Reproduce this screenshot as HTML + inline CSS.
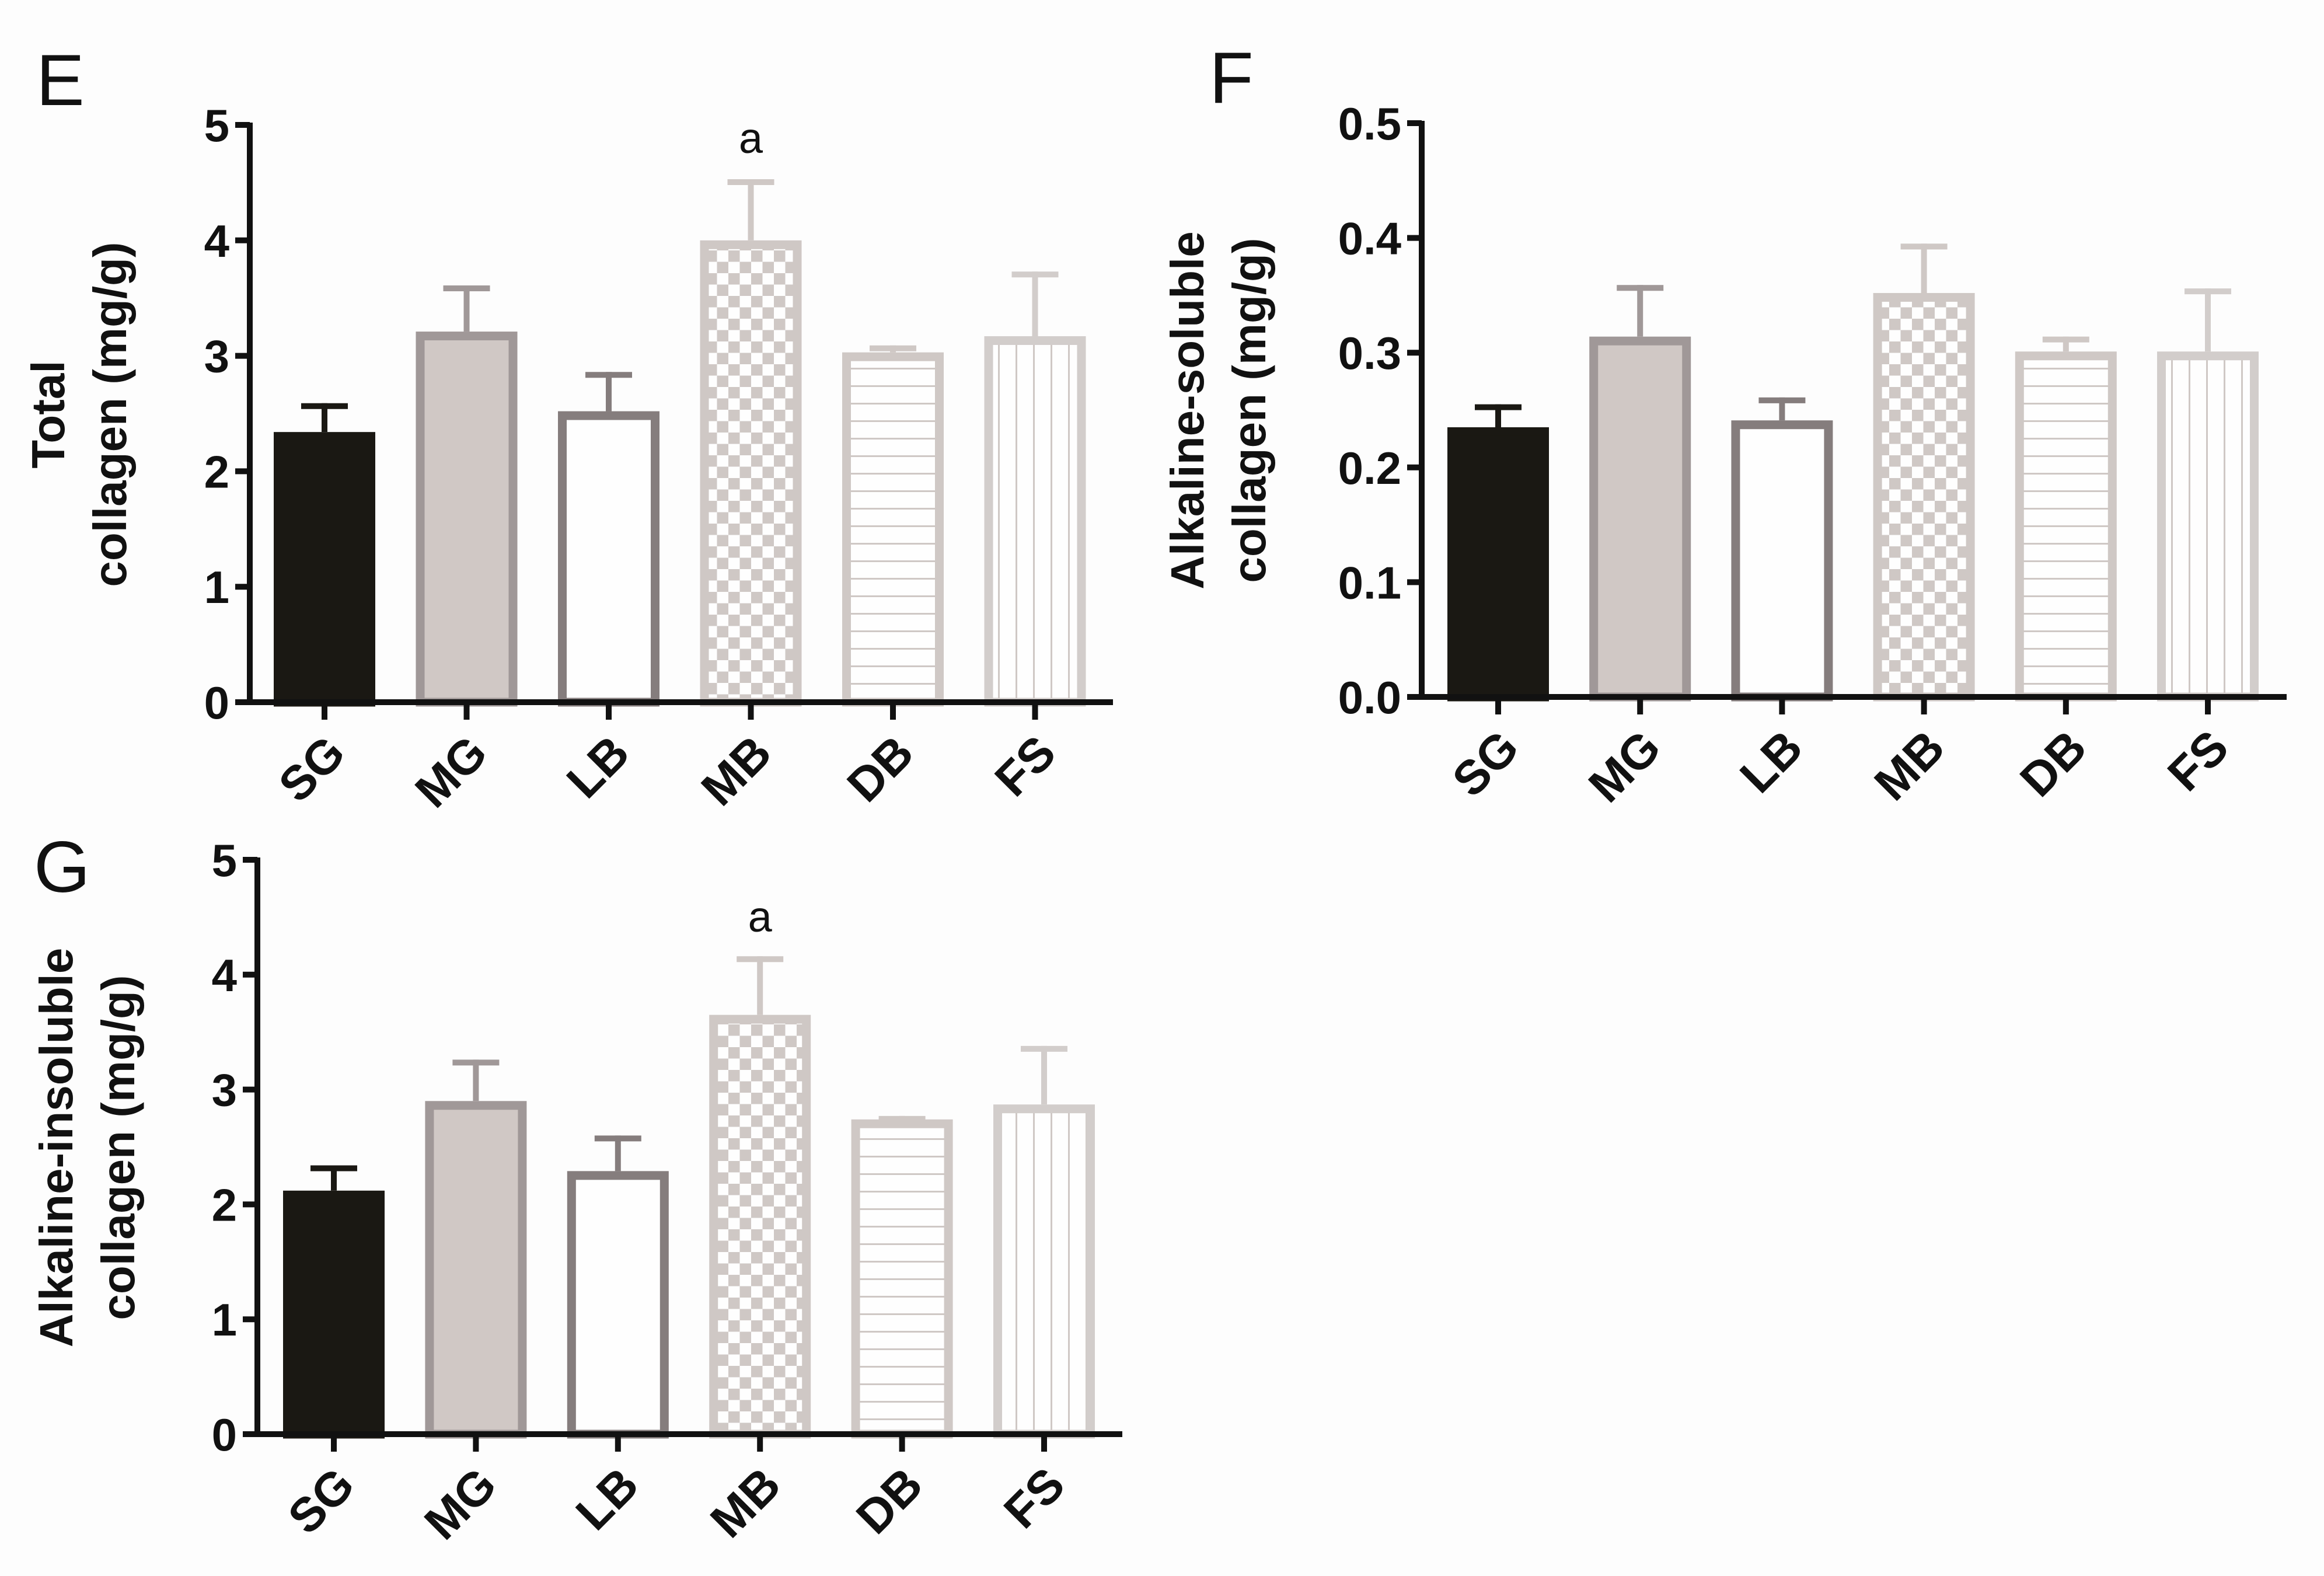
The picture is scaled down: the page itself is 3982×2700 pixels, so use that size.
<!DOCTYPE html>
<html><head><meta charset="utf-8"><style>
html,body{margin:0;padding:0;background:#fdfdfd;}
svg{display:block;}
text{font-family:"Liberation Sans",Arial,sans-serif;}
.tick{font-family:"Liberation Sans Narrow","Liberation Sans",sans-serif;font-weight:bold;font-size:78px;fill:#111;}
.cat{font-weight:bold;font-size:82px;fill:#111;}
.ttl{font-weight:bold;font-size:80px;fill:#111;}
.letter{font-size:124px;fill:#111;}
</style></head><body>
<svg id="fig" width="3982" height="2700" viewBox="0 0 3982 2700" xmlns="http://www.w3.org/2000/svg">
<defs>
<pattern id="checker" patternUnits="userSpaceOnUse" width="39" height="39">
<rect x="0" y="0" width="39" height="39" fill="#fefefe"/>
<rect x="0" y="0" width="19.5" height="19.5" fill="#cfc8c5"/>
<rect x="19.5" y="19.5" width="19.5" height="19.5" fill="#cfc8c5"/>
</pattern>
<pattern id="hlines" patternUnits="userSpaceOnUse" width="30" height="30">
<rect width="30" height="30" fill="#fefefe"/><rect x="0" y="0" width="30" height="3" fill="#cfc8c5"/>
</pattern>
<pattern id="vlines" patternUnits="userSpaceOnUse" width="30" height="30">
<rect width="30" height="30" fill="#fefefe"/><rect x="0" y="0" width="3" height="30" fill="#cfc8c5"/>
</pattern>
</defs>
</svg>
<script>
const categories = ["SG","MG","LB","MB","DB","FS"];
const totalValues = [2.34,3.21,2.52,4.00,3.03,3.17];
const totalErrors = [0.25,0.40,0.34,0.53,0.06,0.56];
const totalTicks = ["0","1","2","3","4","5"];
const solubleValues = [0.235,0.314,0.241,0.352,0.301,0.301];
const solubleErrors = [0.020,0.045,0.020,0.043,0.013,0.055];
const solubleTicks = ["0.0","0.1","0.2","0.3","0.4","0.5"];
const insolubleValues = [2.12,2.90,2.29,3.65,2.74,2.87];
const insolubleErrors = [0.22,0.36,0.31,0.51,0.03,0.51];
const insolubleTicks = ["0","1","2","3","4","5"];
const sigMarks = ["","","","a","",""];

const NS="http://www.w3.org/2000/svg";
const svg=document.getElementById('fig');
function mk(tag,attrs,parent){const e=document.createElementNS(NS,tag);for(const k in attrs)e.setAttribute(k,attrs[k]);(parent||svg).appendChild(e);return e;}

const styles=[
 {fill:"#1a1813",stroke:"#1a1813",err:"#1a1813"},
 {fill:"#d0c8c5",stroke:"#a09898",err:"#a09898"},
 {fill:"#fefefe",stroke:"#857d7d",err:"#857d7d"},
 {fill:"url(#checker)",stroke:"#cfc8c5",err:"#cfc8c5"},
 {fill:"url(#hlines)",stroke:"#cfc8c5",err:"#cfc8c5"},
 {fill:"url(#vlines)",stroke:"#d2cdcb",err:"#d2cdcb"}
];

function panel(p){
  const g=mk('g',{});
  
  
  const yScale=v=>p.y0-(v/p.max)*(p.y0-p.yTop);
  const xScale=i=>p.c0+i*p.pitch;
  const L=mk('text',{x:p.lx,y:p.ly,class:'letter'},g);L.textContent=p.letter;
  
  
  const tg=mk('g',{transform:`translate(${p.tx},${p.ty}) rotate(-90)`},g);
  
  
  p.title.forEach((t,k)=>{const e=mk('text',{x:0,y:k*106,'text-anchor':'middle',class:'ttl'},tg);e.textContent=t;});
  p.values.forEach((v,i)=>{
    const cx=xScale(i), w=174, s=styles[i];
    const top=yScale(v), et=yScale(v+p.errors[i]);
    const eb=mk('line',{x1:cx,y1:top,x2:cx,y2:et,stroke:s.err,'stroke-width':10},g);
    
    
    const cap=mk('line',{x1:cx-40,y1:et+5,x2:cx+40,y2:et+5,stroke:s.err,'stroke-width':10},g);
    
    
    const r=mk('rect',{x:cx-w/2+7.5,y:top+7.5,width:w-15,height:Math.max(0,p.y0-top-7.5),fill:s.fill,stroke:s.stroke,'stroke-width':15},g);
    
    
    if(p.sig && p.sig[i]){const a=mk('text',{x:cx,y:p.sigY,'text-anchor':'middle',style:'font-size:74px;fill:#111'},g);a.textContent=p.sig[i];
      
      }
  });
  const ya=mk('line',{x1:p.ax,y1:p.yTop-4,x2:p.ax,y2:p.y0+5,stroke:'#111','stroke-width':10},g);
  
  
  const xa=mk('line',{x1:p.ax-25,y1:p.y0,x2:p.xEnd,y2:p.y0,stroke:'#111','stroke-width':10},g);
  
  
  p.ticks.forEach((t,k)=>{
    const v=k*p.max/(p.ticks.length-1), y=yScale(v);
    mk('line',{x1:p.ax-25,y1:y,x2:p.ax,y2:y,stroke:'#111','stroke-width':10},g);
    const e=mk('text',{x:p.ax-35,y:y+28,'text-anchor':'end',class:'tick'},g);e.textContent=t;
    
    
  });
  categories.forEach((c,i)=>{
    const cx=xScale(i);
    mk('line',{x1:cx,y1:p.y0,x2:cx,y2:p.y0+30,stroke:'#111','stroke-width':10},g);
    const e=mk('text',{x:0,y:0,'text-anchor':'end',class:'cat',transform:`translate(${cx+40},${p.y0+92}) rotate(-45)`},g);
    e.textContent=c;
    
    
  });
}

panel({name:'panel-e-total-collagen',letter:'E',lx:62,ly:180,title:['Total','collagen (mg/g)'],tx:110,ty:710,
  values:totalValues,errors:totalErrors,ticks:totalTicks,max:5,y0:1203,yTop:214,ax:428,xEnd:1907,c0:556,pitch:243.5,sig:sigMarks,sigY:262});
panel({name:'panel-f-alkaline-soluble',letter:'F',lx:2072,ly:176,title:['Alkaline-soluble','collagen (mg/g)'],tx:2062,ty:703,
  values:solubleValues,errors:solubleErrors,ticks:solubleTicks,max:0.5,y0:1194,yTop:211,ax:2436,xEnd:3918,c0:2567,pitch:243.2,sig:null});
panel({name:'panel-g-alkaline-insoluble',letter:'G',lx:58,ly:1528,title:['Alkaline-insoluble','collagen (mg/g)'],tx:124,ty:1966,
  values:insolubleValues,errors:insolubleErrors,ticks:insolubleTicks,max:5,y0:2457,yTop:1473,ax:441,xEnd:1923,c0:572,pitch:243.4,sig:sigMarks,sigY:1596});
</script>
</body></html>
